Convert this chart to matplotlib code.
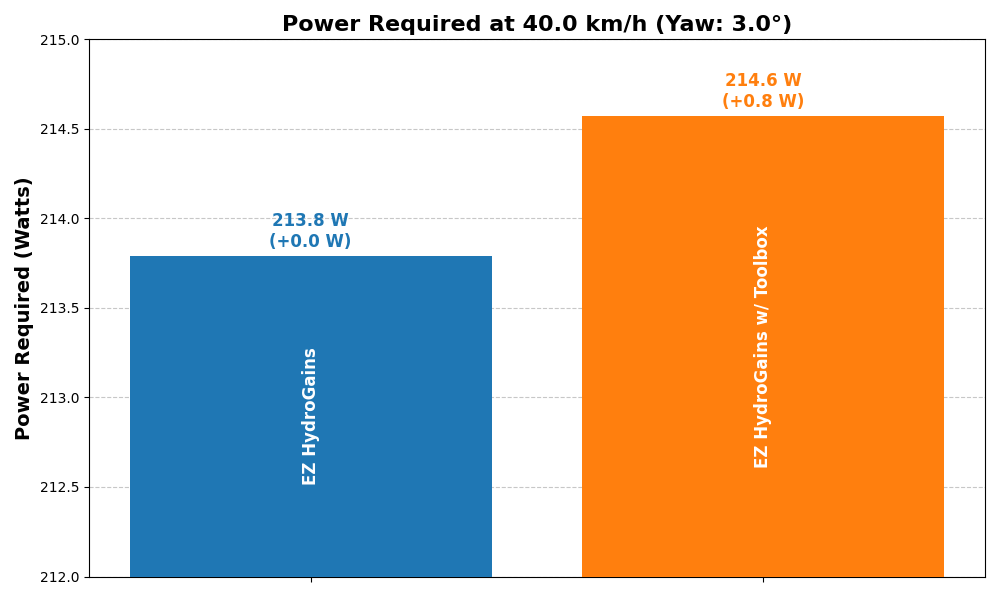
import matplotlib
matplotlib.use("Agg")
import matplotlib.pyplot as plt

names = ["EZ HydroGains", "EZ HydroGains w/ Toolbox"]
power = [213.79, 214.57]
delta = [0.0, 0.8]
colors = ["#1f77b4", "#ff7f0e"]
speed = 40.0
yaw = 3.0
y_min, y_max = 212.0, 215.0

fig, ax = plt.subplots(figsize=(10, 6), dpi=100)
x = list(range(len(names)))
bars = ax.bar(x, power, color=colors, width=0.8, zorder=3)

for xi, p, d, c, n in zip(x, power, delta, colors, names):
    ax.text(xi, p + 0.03, f"{p:.1f} W\n(+{d:.1f} W)", ha="center", va="bottom",
            color=c, fontsize=12, fontweight="bold")
    ax.text(xi, (y_min + p) / 2, n, ha="center", va="center", rotation=90,
            color="white", fontsize=12, fontweight="bold", zorder=4)

ax.set_ylim(y_min, y_max)
ax.set_xticks(x)
ax.set_xticklabels([])
ax.set_ylabel("Power Required (Watts)", fontsize=14, fontweight="bold")
ax.set_title(f"Power Required at {speed:.1f} km/h (Yaw: {yaw:.1f}°)",
             fontsize=16, fontweight="bold")
ax.grid(axis="y", linestyle="--", alpha=0.7, zorder=0)

plt.tight_layout()
plt.savefig("out.png")
